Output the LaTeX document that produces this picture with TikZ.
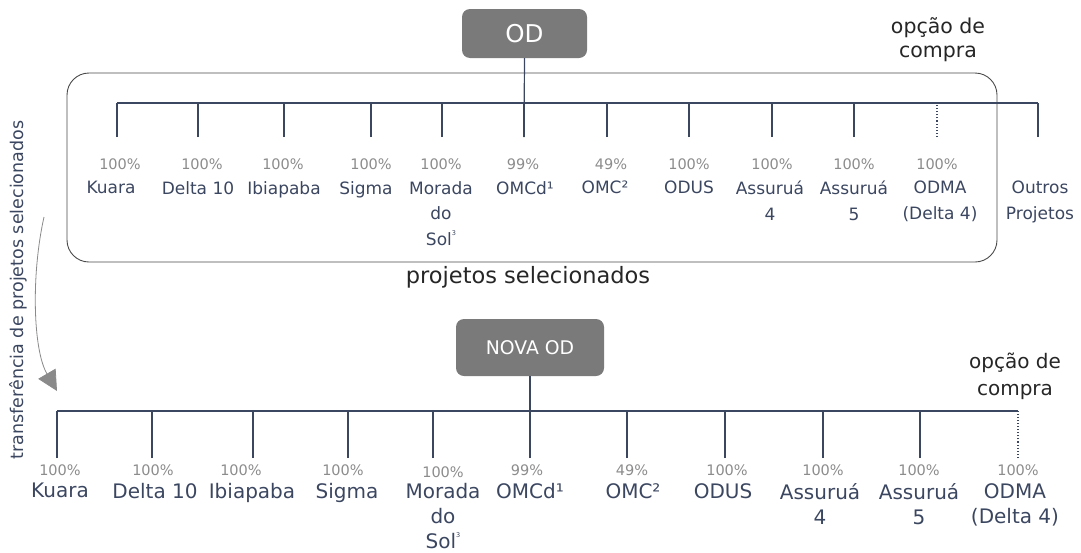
\documentclass[tikz,border=0pt]{standalone}
\usepackage{fontspec}
\setmainfont{DejaVu Sans}
\usetikzlibrary{arrows.meta}
\definecolor{navy}{HTML}{3B4660}
\definecolor{boxgray}{HTML}{7A7A7A}
\definecolor{pctgray}{HTML}{8C8C8C}
\definecolor{framegray}{HTML}{4A4A4A}
\definecolor{arrowgray}{HTML}{8A8A8A}
\newcommand{\supsmall}[1]{\raisebox{0.55em}{\fontsize{6.5}{6.5}\selectfont #1}}
\begin{document}
\begin{tikzpicture}[x=1pt,y=-1pt,
  treeline/.style={draw=navy, line width=1.2pt},
  optline/.style={draw=navy, line width=1.1pt, dotted},
  pct/.style={text=pctgray, font=\fontsize{14.5}{14.5}\selectfont, inner sep=0pt},
  nameU/.style={text=navy, font=\fontsize{17}{25.5}\selectfont, align=center, anchor=north, inner sep=0pt},
  nameL/.style={text=navy, font=\fontsize{20}{25}\selectfont, align=center, anchor=north, inner sep=0pt},
  odbox/.style={fill=boxgray, rounded corners=8pt, text=white, inner sep=0pt},
  plain/.style={text=black!85, inner sep=0pt}]
\useasboundingbox (0,0) rectangle (1081,552);

% ---------- upper diagram ----------
\draw[framegray, line width=0.9pt, rounded corners=22pt] (67,73) rectangle (997,262);
\node[odbox, minimum width=125pt, minimum height=49pt, font=\fontsize{24.5}{24.5}\selectfont] (od) at (524.5,33.5) {OD};

\coordinate (bUL) at (117,103);
\coordinate (bUR) at (1038,103);
\draw[treeline] (bUL) -- (bUR);
\foreach \i/\x in {1/117,2/198,3/284,4/371,5/442,6/524,7/607,8/689,9/772,10/854,12/1038}{
  \coordinate (tU\i) at (\x,137);
  \draw[treeline] (tU\i) -- (tU\i |- bUL);
}
\coordinate (tU11) at (937,137);
\draw[optline] (tU11) -- (tU11 |- bUL);
\draw[treeline] (od.south) -- (tU6);

\foreach \i/\x in {1/120,2/202,3/283,4/371,5/441,6/523,7/611,8/689,9/772,10/854,11/937}{
  \node[pct] (pU\i) at (\x,164) {\ifnum\i=6 99\%\else\ifnum\i=7 49\%\else 100\%\fi\fi};
}
\node[nameU] (nU1) at (111,181) {Kuara};
\node[nameU] (nU2) at (198,181) {Delta 10};
\node[nameU] (nU3) at (284,181) {Ibiapaba};
\node[nameU] (nU4) at (366,181) {Sigma};
\node[nameU] (nU5) at (441,181) {Morada\\do\\Sol\supsmall{3}};
\node[nameU] (nU6) at (525,181) {OMCd¹};
\node[nameU] (nU7) at (605,181) {OMC²};
\node[nameU] (nU8) at (689,181) {ODUS};
\node[nameU] (nU9) at (770,181) {Assuruá\\4};
\node[nameU] (nU10) at (854,181) {Assuruá\\5};
\node[nameU] (nU11) at (940,181) {ODMA\\(Delta 4)};
\node[nameU] (nU12) at (1040,181) {Outros\\Projetos};

\node[plain, align=center, anchor=north, font=\fontsize{20.5}{24}\selectfont] (optU) at (938,17) {opção de\\compra};
\node[plain, font=\fontsize{22.5}{22.5}\selectfont] (sel) at (528,277) {projetos selecionados};

% ---------- transfer arrow ----------
\node[rotate=90, text=navy, inner sep=0pt, font=\fontsize{17.5}{17.5}\selectfont] (transf) at (18,290) {transferência de projetos selecionados};
\coordinate (arrS) at (44,217);
\coordinate (arrE) at (57,391);
\draw[arrowgray, line width=0.8pt, -{Triangle[length=20pt,width=20pt]}] (arrS) .. controls (31,275) and (33,350) .. (arrE);

% ---------- lower diagram ----------
\node[odbox, minimum width=148pt, minimum height=57pt, font=\fontsize{18.8}{18.8}\selectfont] (nova) at (530,347.5) {NOVA OD};

\coordinate (bLL) at (57,411);
\coordinate (bLR) at (1018,411);
\draw[treeline] (bLL) -- (bLR);
\foreach \i/\x in {1/57,2/152,3/253,4/348,5/433,6/530,7/627,8/725,9/823,10/920}{
  \coordinate (tL\i) at (\x,458);
  \draw[treeline] (tL\i) -- (tL\i |- bLL);
}
\coordinate (tL11) at (1018,458);
\draw[optline] (tL11) -- (tL11 |- bLL);
\draw[treeline] (nova.south) -- (tL6);

\foreach \i/\x/\y in {1/60/470,2/153/470,3/241/470,4/343/470,5/443/472,6/527/470,7/632/470,8/727/470,9/823/470,10/919/470,11/1018/470}{
  \node[pct] (pL\i) at (\x,\y) {\ifnum\i=6 99\%\else\ifnum\i=7 49\%\else 100\%\fi\fi};
}
\node[nameL] (nL1) at (60,483) {Kuara};
\node[nameL] (nL2) at (155,483) {Delta 10};
\node[nameL] (nL3) at (252,483) {Ibiapaba};
\node[nameL] (nL4) at (347,483) {Sigma};
\node[nameL] (nL5) at (443,483) {Morada\\do\\Sol\supsmall{3}};
\node[nameL] (nL6) at (530,483) {OMCd¹};
\node[nameL] (nL7) at (633,483) {OMC²};
\node[nameL] (nL8) at (723,483) {ODUS};
\node[nameL] (nL9) at (820,483) {Assuruá\\4};
\node[nameL] (nL10) at (919,483) {Assuruá\\5};
\node[nameL] (nL11) at (1015,483) {ODMA\\(Delta 4)};

\node[plain, align=center, anchor=north, font=\fontsize{20}{27}\selectfont] (optL) at (1015,353) {opção de\\compra};
\end{tikzpicture}
\end{document}
